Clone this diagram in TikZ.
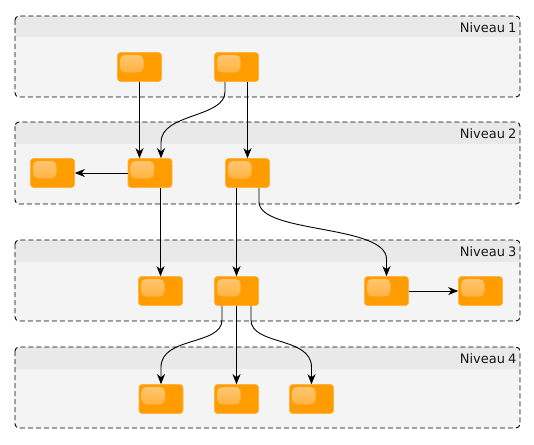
\documentclass[tikz,border=0pt]{standalone}
\usepackage{fontspec}
\setmainfont{DejaVu Sans}
\usetikzlibrary{arrows.meta,calc}
\definecolor{laneHead}{HTML}{E9E9E9}
\definecolor{laneBody}{HTML}{F4F4F4}
\definecolor{boxOrange}{HTML}{FF9C00}
\definecolor{boxEdge}{HTML}{FFB340}
\definecolor{glossTop}{HTML}{FFC878}
\definecolor{glossBot}{HTML}{FFA928}
\newcommand{\mylane}[3]{%
  \begin{scope}
    \clip[rounded corners=4pt] (15,#1) rectangle (520,#2);
    \fill[laneBody] (15,#1) rectangle (520,#2);
    \fill[laneHead] (15,#1) rectangle (520,#1+21.5);
  \end{scope}
  \draw[lanebox] (15,#1) rectangle (520,#2);
  \node[lanelabel] (#3) at (516.5,#1+11.5) {Niveau\hspace{3pt}#3};
}
\begin{document}
\begin{tikzpicture}[x=1pt,y=-1pt,
  lanebox/.style={draw=black,line width=0.9pt,dash pattern=on 5pt off 3pt,rounded corners=4pt},
  lanelabel/.style={anchor=east,inner sep=0pt,font=\fontsize{13}{15}\selectfont,text=black!90},
  obox/.style={rectangle,rounded corners=3pt,minimum width=44pt,minimum height=29pt,inner sep=0pt,
    fill=boxOrange,draw=boxEdge,line width=0.6pt,
    path picture={\shade[top color=glossTop,bottom color=glossBot,rounded corners=5pt]
      ([shift={(2.5pt,-2.5pt)}]path picture bounding box.north west) rectangle
      ([shift={(26pt,-20pt)}]path picture bounding box.north west);}},
  conn/.style={line width=0.9pt,-{Stealth[length=10pt,width=8pt,inset=3pt]}}]
\useasboundingbox (0,0) rectangle (534,444);

\mylane{16}{97}{1}
\mylane{122}{204}{2}
\mylane{240}{321}{3}
\mylane{347}{428}{4}

% nodes
\node[obox] (A) at (139.5,67) {};
\node[obox] (B) at (236.5,67) {};
\node[obox] (C) at (52.5,173) {};
\node[obox] (D) at (150,173) {};
\node[obox] (E) at (247.5,173) {};
\node[obox] (F) at (160.5,291) {};
\node[obox] (G) at (236.5,291) {};
\node[obox] (H) at (386.5,291) {};
\node[obox] (I) at (480.5,291) {};
\node[obox] (J) at (161,399) {};
\node[obox] (K) at (236.5,399) {};
\node[obox] (L) at (311.5,399) {};

% connectors
\draw[conn] (A.south) -- (A.south |- D.north);
\draw[conn] ($(B.south)+(-11.5,0)$) -- ++(0,10)
   .. controls +(0,26) and ($(D.north)+(11,-45)$) .. ($(D.north)+(11,-16)$) -- ($(D.north)+(11,0)$);
\draw[conn] (E.north |- B.south) -- (E.north);
\draw[conn] (D.west) -- (C.east);
\draw[conn] (F.north |- D.south) -- (F.north);
\draw[conn] (G.north |- E.south) -- (G.north);
\draw[conn] ($(E.south)+(11.5,0)$) -- ++(0,14)
   .. controls +(0,32) and ($(H.north)+(0,-52)$) .. ($(H.north)+(0,-17)$) -- (H.north);
\draw[conn] (H.east) -- (I.west);
\draw[conn] ($(G.south)+(-14.5,0)$) -- ++(0,14)
   .. controls +(0,26) and ($(J.north)+(0,-48)$) .. ($(J.north)+(0,-17)$) -- (J.north);
\draw[conn] (G.south) -- (K.north);
\draw[conn] ($(G.south)+(14.5,0)$) -- ++(0,14)
   .. controls +(0,26) and ($(L.north)+(0,-48)$) .. ($(L.north)+(0,-17)$) -- (L.north);
\end{tikzpicture}
\end{document}
